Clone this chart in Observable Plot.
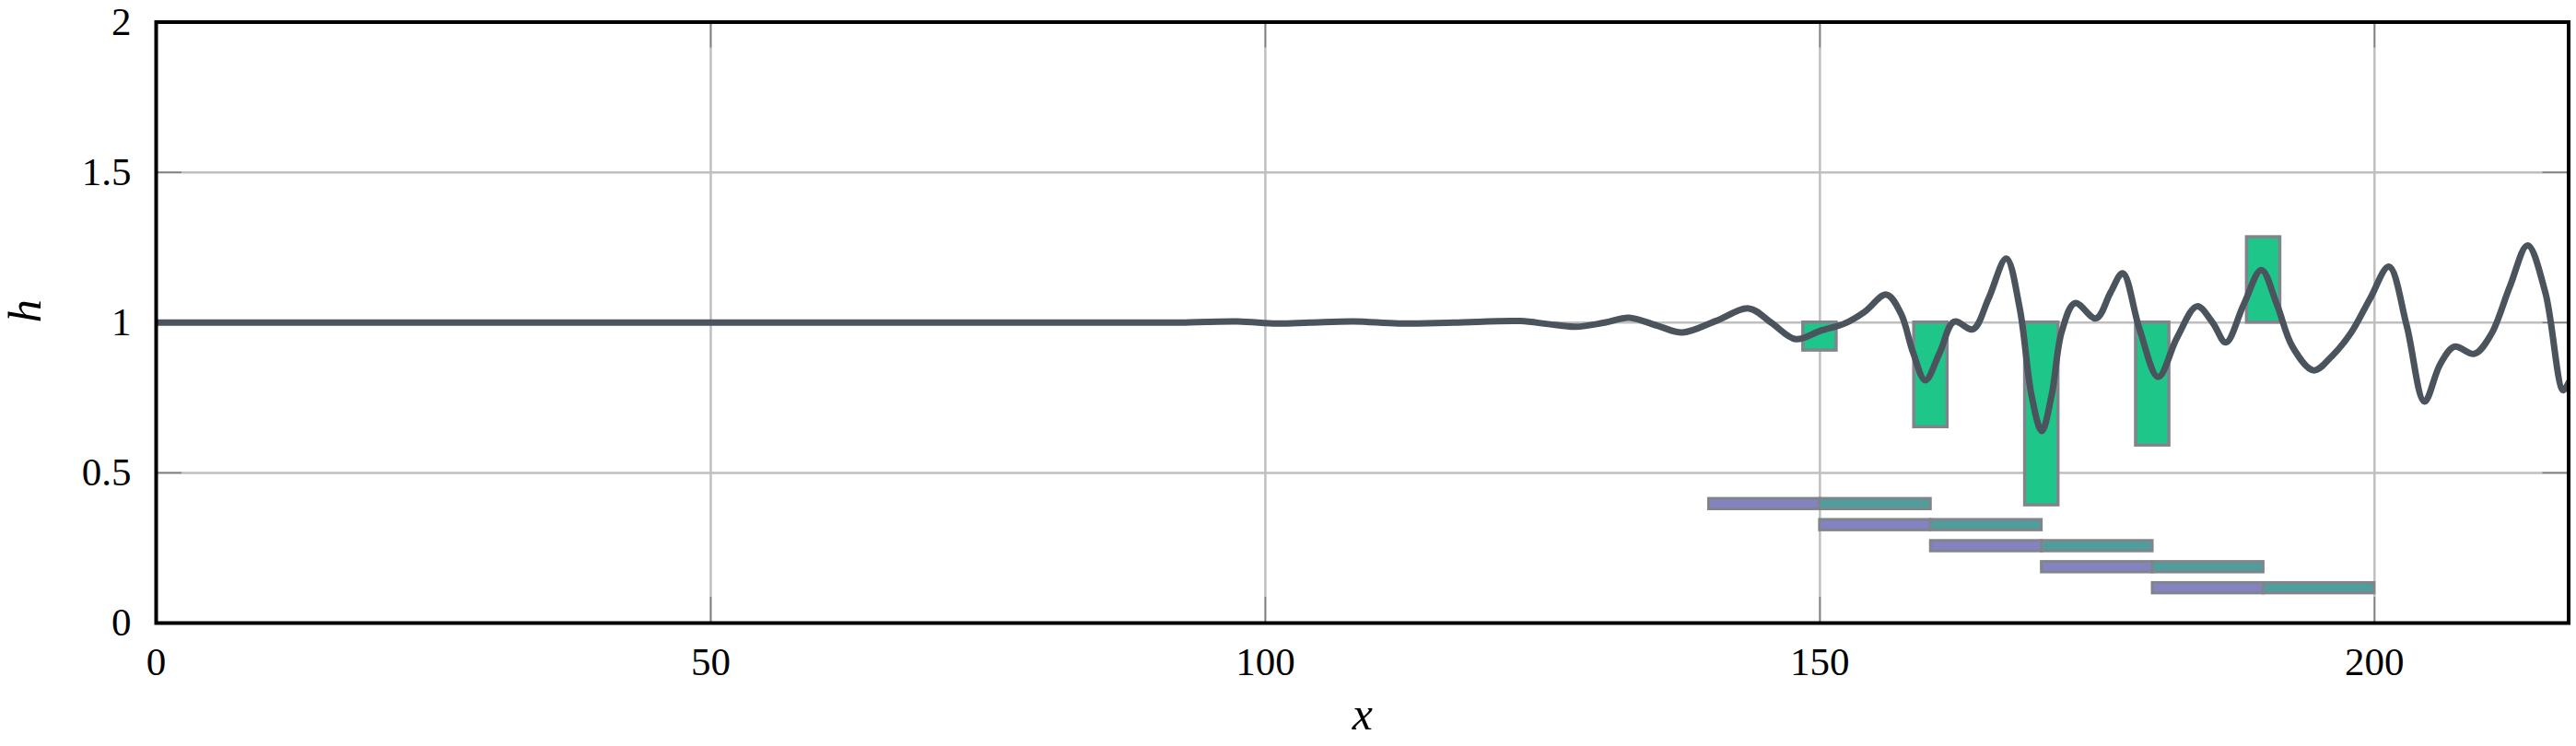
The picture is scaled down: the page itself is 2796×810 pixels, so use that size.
<!DOCTYPE html>
<html><head><meta charset="utf-8">
<script src="https://cdn.jsdelivr.net/npm/d3@7"></script>
<script src="https://cdn.jsdelivr.net/npm/@observablehq/plot@0.6"></script>
<style>
body{margin:0;background:#fff}
svg text{font-family:"Liberation Serif","DejaVu Serif",serif !important;}
</style>
</head><body><div id="chart"></div>
<script>
// ---- data ----
const xTicks = [0, 50, 100, 150, 200];
const yTicks = [0, 0.5, 1, 1.5, 2];
const yTickLabels = ["0", "0.5", "1", "1.5", "2"];
const xLabel = "x";
const yLabel = "h";

const lineX = [0, 90, 92, 97.5, 101, 104, 108, 112, 117, 123, 125.5, 128, 130.6, 132.8, 135.4, 137.6, 140.6, 143.6, 145.6, 147.8,
  150, 152.3, 154, 156, 157.3, 158.4, 159.5, 160.8, 162.1, 163.8, 165.2, 166.8, 168, 169.1, 170, 170.9, 171.8, 173.0,
  174.9, 176.2, 177.3, 178.8, 180.5, 182.2, 184, 185.4, 186.6, 188.2, 189.8, 191.2, 192.6, 194.5, 196.2, 197.9,
  199.6, 201.3, 202.9, 204.5, 205.9, 207.2, 209, 210.5, 212.2, 213.8, 215.4, 217, 217.5];
const lineH = [1, 1, 1, 1.004, 0.997, 1.0, 1.004, 0.997, 1.0, 1.005, 0.995, 0.986, 1.0, 1.016, 0.989, 0.967, 1.005, 1.047, 1.0, 0.945,
  0.972, 0.998, 1.035, 1.093, 1.03, 0.9, 0.808, 0.9, 1.003, 0.978, 1.08, 1.213, 1.05, 0.753, 0.639, 0.76, 0.97, 1.065,
  1.014, 1.1, 1.164, 0.98, 0.819, 0.95, 1.054, 1.0, 0.934, 1.06, 1.175, 1.06, 0.92, 0.841, 0.89, 0.967,
  1.08, 1.186, 0.99, 0.737, 0.86, 0.92, 0.896, 0.96, 1.12, 1.257, 1.1, 0.775, 0.80];

const barCenters = [150, 160, 170, 180, 190];
const barValues = [0.907, 0.652, 0.392, 0.591, 1.284];
const barBase = 1;
const barWidth = 3;

const windowStart = [140, 150, 160, 170, 180];
const windowMid = [150, 160, 170, 180, 190];
const windowEnd = [160, 170, 180, 190, 200];
const windowLevel = [0.396, 0.326, 0.256, 0.186, 0.116];
const windowHalfThickness = 0.0175;

// ---- build tables ----
const lineData = lineX.map((x, i) => ({x, h: lineH[i]}));
const bars = barCenters.map((c, i) => ({c, v: barValues[i]}));
const windows = windowStart.map((s, i) => ({s, m: windowMid[i], e: windowEnd[i], y: windowLevel[i]}));

const W = 2796, H = 810;
const mL = 169, mR = 8.5, mT = 23.5, mB = 134;
const fw = W - mL - mR, fh = H - mT - mB;
const tick = 28;
const serif = "'Liberation Serif', 'DejaVu Serif', serif";
const gridStyle = {stroke: "#bfbfbf", strokeOpacity: 1, strokeWidth: 2.5};
const tickStyle = {stroke: "#808080", strokeWidth: 1.6};
const edge = "#80858b";

const chart = Plot.plot({
  width: W, height: H,
  marginLeft: mL, marginRight: mR, marginTop: mT, marginBottom: mB,
  style: {fontFamily: serif, fontSize: "43px", background: "#fff", color: "#000", overflow: "visible"},
  x: {domain: [0, 217.5]},
  y: {domain: [0, 2]},
  marks: [
    Plot.gridX({ticks: xTicks, ...gridStyle}),
    Plot.gridY({ticks: yTicks, ...gridStyle}),
    Plot.tickX(xTicks, {x: d => d, insetTop: fh - tick, ...tickStyle}),
    Plot.tickX(xTicks, {x: d => d, insetBottom: fh - tick, ...tickStyle}),
    Plot.tickY(yTicks, {y: d => d, insetRight: fw - tick, ...tickStyle}),
    Plot.tickY(yTicks, {y: d => d, insetLeft: fw - tick, ...tickStyle}),
    Plot.axisX({ticks: xTicks, tickSize: 0, tickPadding: 26, label: null, fontSize: 43, tickFormat: d => String(d)}),
    Plot.axisY({ticks: yTicks, tickSize: 0, tickPadding: 27, label: null, fontSize: 43, tickFormat: d => yTickLabels[yTicks.indexOf(d)]}),
    Plot.rect(windows, {x1: "s", x2: "m", y1: d => d.y - windowHalfThickness, y2: d => d.y + windowHalfThickness, fill: "#8582c2", stroke: edge, strokeWidth: 3}),
    Plot.rect(windows, {x1: "m", x2: "e", y1: d => d.y - windowHalfThickness, y2: d => d.y + windowHalfThickness, fill: "#4f9d9c", stroke: edge, strokeWidth: 3}),
    Plot.rect(bars, {x1: d => d.c - barWidth / 2, x2: d => d.c + barWidth / 2, y1: barBase, y2: "v", fill: "#1ec689", stroke: edge, strokeWidth: 3.5}),
    Plot.line(lineData, {x: "x", y: "h", stroke: "#4b535d", strokeWidth: 7, curve: "catmull-rom", clip: true}),
    Plot.frame({stroke: "#000", strokeWidth: 4}),
    Plot.text([xLabel], {text: d => d, frameAnchor: "bottom", dy: 115, fontStyle: "italic", fontSize: 50}),
    Plot.text([yLabel], {text: d => d, frameAnchor: "left", dx: -142, rotate: -90, fontStyle: "italic", fontSize: 50})
  ]
});
chart.setAttribute("font-family", serif);
chart.querySelectorAll("g, text").forEach(el => { if (el.getAttribute("font-family")) el.setAttribute("font-family", serif); });
document.getElementById("chart").appendChild(chart);
</script>
</body></html>
